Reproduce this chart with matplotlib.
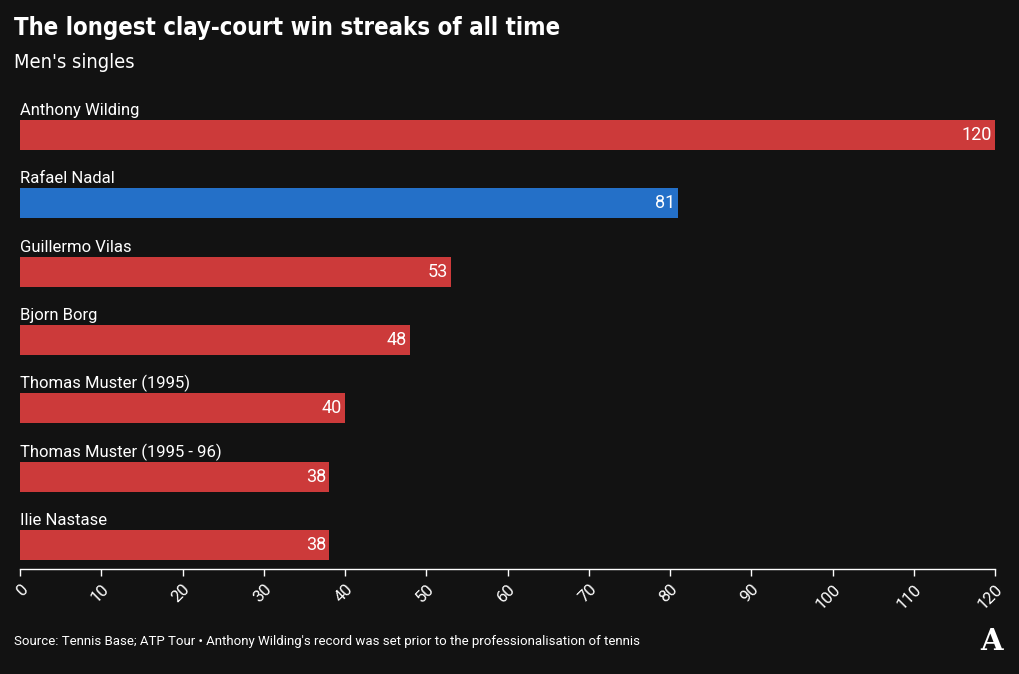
import matplotlib.pyplot as plt
from matplotlib import font_manager

BG = "#121212"
RED = "#cc3a3a"
BLUE = "#2470c8"

players = ["Anthony Wilding", "Rafael Nadal", "Guillermo Vilas", "Bjorn Borg",
           "Thomas Muster (1995)", "Thomas Muster (1995 - 96)", "Ilie Nastase"]
wins = [120, 81, 53, 48, 40, 38, 38]
highlight = "Rafael Nadal"
xticks = list(range(0, 121, 10))

fonts = font_manager.fontManager.ttflist
condensed = [f for f in fonts if f.stretch in ("condensed", "semi-condensed", 87.5, 75)
             or "Condensed" in f.fname or "Narrow" in f.fname]
cond_bold = [f for f in condensed if "Bold" in f.fname and "Oblique" not in f.fname]
cond_reg = [f for f in condensed if "Bold" not in f.fname and "Oblique" not in f.fname]
plt.rcParams["font.family"] = ["Roboto", "DejaVu Sans"]

fig = plt.figure(figsize=(10.2, 6.74), dpi=100, facecolor=BG)
ax = fig.add_axes([20 / 1020, 1 - 569 / 674, 975 / 1020, 474 / 674])
ax.set_facecolor(BG)

ys = list(range(len(players)))
colors = [BLUE if p == highlight else RED for p in players]
ax.barh(ys, wins, height=0.44, color=colors, align="center")

for y, name, v in zip(ys, players, wins):
    ax.text(0, y - 0.36, name, color="white", fontsize=12, ha="left", va="center")
    ax.text(v - 0.35, y, str(v), color="white", fontsize=13, ha="right", va="center")

ax.set_xlim(0, 120)
ax.set_ylim(6.351, -0.585)
ax.set_yticks([])
ax.set_xticks(xticks)
ax.set_xticklabels([str(t) for t in xticks], rotation=45, ha="right",
                   rotation_mode="anchor", fontsize=12, color="white")
ax.tick_params(axis="x", colors="white", length=5, width=1, pad=4)
for s in ["top", "right", "left"]:
    ax.spines[s].set_visible(False)
ax.spines["bottom"].set_color("white")
ax.spines["bottom"].set_linewidth(1)

# title: condensed face if one exists, fitted to the reference width
title = fig.text(14 / 1020, 1 - 28 / 674, "The longest clay-court win streaks of all time",
                 fontweight="bold", fontsize=20, color="white", va="center", ha="left")
if cond_bold or condensed:
    title.set_fontproperties(font_manager.FontProperties(
        fname=(cond_bold or condensed)[0].fname, size=20, weight="bold"))
fig.canvas.draw()
w = title.get_window_extent().width
title.set_fontsize(20 * 549 / w)

sub = fig.text(14 / 1020, 1 - 62 / 674, "Men's singles",
               fontsize=15, color="white", va="center", ha="left")
if cond_reg:
    sub.set_fontproperties(font_manager.FontProperties(fname=cond_reg[0].fname, size=15))
fig.canvas.draw()
w = sub.get_window_extent().width
sub.set_fontsize(sub.get_fontsize() * 120 / w)

fig.text(14 / 1020, 1 - 642 / 674,
         "Source: Tennis Base; ATP Tour \u2022 Anthony Wilding's record was set prior to the professionalisation of tennis",
         fontsize=9.5, color="white", va="center", ha="left")
fig.text(992 / 1020, 1 - 642 / 674, "A", family="DejaVu Serif", fontweight="bold",
         fontsize=21, color="white", va="center", ha="center")

fig.savefig("out.png", dpi=100, facecolor=BG)
